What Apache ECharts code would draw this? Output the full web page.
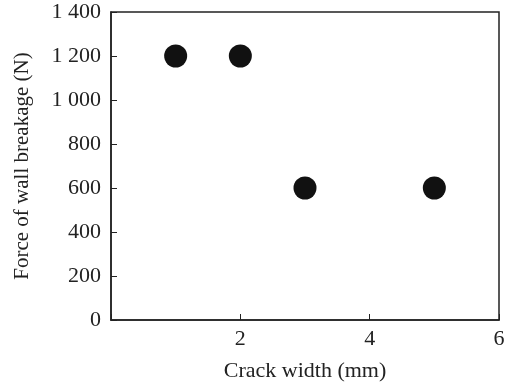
<!DOCTYPE html>
<html>
<head>
<meta charset="utf-8">
<script src="https://cdn.jsdelivr.net/npm/echarts@6/dist/echarts.min.js"></script>
<style>
  html, body { margin: 0; padding: 0; background: #fff; }
  #chart { width: 508px; height: 384px; }
</style>
</head>
<body>
<div id="chart"></div>
<script>
const crackWidth = [1, 2, 3, 5]
const breakForce = [1200, 1200, 600, 600]
const xTicks = [0, 2, 4, 6]
const yTicks = [0, 200, 400, 600, 800, 1000, 1200, 1400]

const font = 'Liberation Serif'
const withSpace = (v) => String(v).replace(/\B(?=(\d{3})+(?!\d))/g, ' ')

const chart = echarts.init(document.getElementById('chart'))
const option = {
  backgroundColor: '#fff',
  animation: false,
  grid: {
    left: 111,
    right: 9,
    top: 12,
    bottom: 64,
    outerBoundsMode: 'none',
    show: true,
    borderColor: '#222',
    borderWidth: 1.5,
  },
  xAxis: {
    type: 'value',
    min: xTicks[0],
    max: xTicks[xTicks.length - 1],
    interval: 2,
    name: 'Crack width (mm)',
    nameLocation: 'middle',
    nameGap: 40,
    nameTextStyle: { fontFamily: font, fontSize: 22, color: '#222' },
    axisLine: { show: true, lineStyle: { color: '#222', width: 1.5 } },
    axisTick: { show: true, inside: true, length: 6, lineStyle: { color: '#222' } },
    axisLabel: {
      fontFamily: font,
      fontSize: 22,
      color: '#222',
      margin: 8,
      formatter: (v) => (v === 0 ? '' : String(v)),
    },
    splitLine: { show: false },
  },
  yAxis: {
    type: 'value',
    min: yTicks[0],
    max: yTicks[yTicks.length - 1],
    interval: 200,
    name: 'Force of wall breakage (N)',
    nameLocation: 'middle',
    nameGap: 78,
    nameTextStyle: { fontFamily: font, fontSize: 21, color: '#222' },
    axisLine: { show: true, lineStyle: { color: '#222', width: 1.5 } },
    axisTick: { show: true, inside: true, length: 6, lineStyle: { color: '#222' } },
    axisLabel: {
      fontFamily: font,
      fontSize: 22,
      color: '#222',
      margin: 10,
      formatter: (v) => withSpace(v),
    },
    splitLine: { show: false },
  },
  series: [
    {
      type: 'scatter',
      symbol: 'circle',
      symbolSize: 23,
      itemStyle: { color: '#111', opacity: 1 },
      data: crackWidth.map((x, i) => [x, breakForce[i]]),
    },
  ],
}
chart.setOption(option)
</script>
</body>
</html>
